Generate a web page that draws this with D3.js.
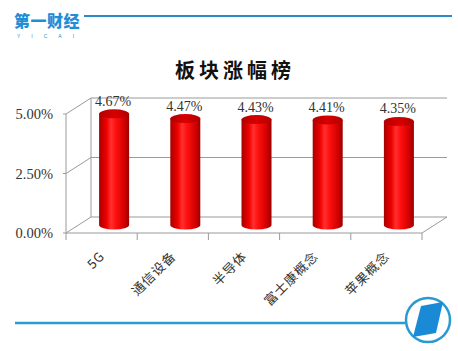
<!DOCTYPE html>
<html>
<head>
<meta charset="utf-8">
<script src="https://cdn.jsdelivr.net/npm/d3@7"></script>
<style>
  body { margin: 0; background: #fff; }
  svg { display: block; }
</style>
</head>
<body>
<div id="chart"></div>
<script>
let categories = ["5G", "通信设备", "半导体", "富士康概念", "苹果概念"];
let values = [4.67, 4.47, 4.43, 4.41, 4.35];
let yTicks = [0, 2.5, 5];

let W = 458, H = 351;
let plotLeft = 66, plotRight = 422, plotBase = 233, plotTop = 114;
let dx = 25, dy = -16;   // profundidad 3d

let svg = d3.select("#chart").append("svg")
    .attr("width", W)
    .attr("height", H);

let x = d3.scaleBand()
    .domain(categories)
    .range([plotLeft, plotRight]);

let y = d3.scaleLinear()
    .domain([0, 5])
    .range([plotBase, plotTop]);

let defs = svg.append("defs");
let grad = defs.append("linearGradient").attr("id", "cil");
[["0%", "#a80000"], ["25%", "#f00000"], ["40%", "#ff3030"], ["55%", "#ff1010"], ["85%", "#d00000"], ["100%", "#9a0000"]]
    .forEach(s => grad.append("stop").attr("offset", s[0]).attr("stop-color", s[1]));
let gradTop = defs.append("linearGradient").attr("id", "tapa");
[["0%", "#b00000"], ["50%", "#d80000"], ["100%", "#b00000"]]
    .forEach(s => gradTop.append("stop").attr("offset", s[0]).attr("stop-color", s[1]));

// logo superior
svg.append("text")
    .attr("x", 14).attr("y", 27)
    .style("font-family", "'Noto Sans CJK SC'")
    .style("font-weight", 900)
    .style("font-size", "16px")
    .style("fill", "#1e8fd6")
    .style("letter-spacing", "0.5px")
    .text("第一财经");
svg.append("text")
    .attr("x", 17).attr("y", 38)
    .style("font-family", "Arial")
    .style("font-size", "5px")
    .style("fill", "#1e8fd6")
    .style("letter-spacing", "11px")
    .text("YICAI");
svg.append("line")
    .attr("x1", 84).attr("x2", 452)
    .attr("y1", 16).attr("y2", 16)
    .attr("stroke", "#2a8ac4").attr("stroke-width", 2);

// titulo
svg.append("text")
    .attr("x", 235).attr("y", 78)
    .attr("text-anchor", "middle")
    .style("font-family", "'Noto Sans CJK SC'")
    .style("font-weight", 700)
    .style("font-size", "20px")
    .style("letter-spacing", "4px")
    .style("fill", "#111")
    .text("板块涨幅榜");

let grid = svg.append("g").attr("stroke", "#9a9a9a").attr("stroke-width", 1).attr("fill", "none");

// pared del fondo y pared izquierda
grid.selectAll(".back")
    .data(yTicks)
    .enter()
    .append("line")
    .attr("x1", plotLeft + dx).attr("x2", plotRight + dx)
    .attr("y1", d => y(d) + dy).attr("y2", d => y(d) + dy);
grid.selectAll(".side")
    .data(yTicks)
    .enter()
    .append("line")
    .attr("x1", plotLeft).attr("x2", plotLeft + dx)
    .attr("y1", d => y(d)).attr("y2", d => y(d) + dy);
grid.append("line")
    .attr("x1", plotLeft + dx).attr("x2", plotLeft + dx)
    .attr("y1", y(0) + dy).attr("y2", y(5) + dy);
grid.append("line")
    .attr("x1", plotLeft).attr("x2", plotLeft)
    .attr("y1", y(0)).attr("y2", y(5));
grid.selectAll(".ytick")
    .data(yTicks)
    .enter()
    .append("line")
    .attr("x1", plotLeft - 3).attr("x2", plotLeft)
    .attr("y1", d => y(d)).attr("y2", d => y(d));

// suelo
grid.append("line")
    .attr("x1", plotLeft).attr("x2", plotRight)
    .attr("y1", plotBase).attr("y2", plotBase);
grid.append("line")
    .attr("x1", plotRight).attr("x2", plotRight + dx)
    .attr("y1", plotBase).attr("y2", plotBase + dy);
let edges = categories.map(c => x(c)).concat([plotRight]);
grid.selectAll(".xtick")
    .data(edges)
    .enter()
    .append("line")
    .attr("x1", d => d).attr("x2", d => d)
    .attr("y1", plotBase).attr("y2", plotBase + 7);

// etiquetas eje y
svg.append("g")
    .selectAll("text")
    .data(yTicks)
    .enter()
    .append("text")
    .attr("x", 53)
    .attr("y", d => y(d))
    .attr("dy", "0.35em")
    .attr("text-anchor", "end")
    .style("font-family", "'Liberation Serif'")
    .style("font-size", "14.5px")
    .style("fill", "#333")
    .text(d => d3.format(".2f")(d) + "%");

// cilindros
let rx = 15, ry = 4.5;
let bars = svg.append("g")
    .selectAll("g")
    .data(values)
    .enter()
    .append("g");

function cx(i) { return x(categories[i]) + x.bandwidth() / 2 + dx / 2; }

bars.append("path")
    .attr("d", (d, i) => {
        let c = cx(i), yb = y(0) + dy / 2, yt = y(d) + dy / 2;
        return "M" + (c - rx) + "," + yt + " L" + (c - rx) + "," + yb +
            " A" + rx + "," + ry + " 0 0 0 " + (c + rx) + "," + yb +
            " L" + (c + rx) + "," + yt + " Z";
    })
    .attr("fill", "url(#cil)");

bars.append("ellipse")
    .attr("cx", (d, i) => cx(i))
    .attr("cy", d => y(d) + dy / 2)
    .attr("rx", rx).attr("ry", ry)
    .attr("fill", "url(#tapa)");

bars.append("text")
    .attr("x", (d, i) => cx(i) - 1)
    .attr("y", d => y(d) + dy / 2 - 8)
    .attr("text-anchor", "middle")
    .style("font-family", "'Liberation Serif'")
    .style("font-size", "14px")
    .style("fill", "#333")
    .text(d => d3.format(".2f")(d) + "%");

// etiquetas eje x
svg.append("g")
    .selectAll("text")
    .data(categories)
    .enter()
    .append("text")
    .attr("transform", d => "translate(" + (x(d) + x.bandwidth() / 2 + 4) + "," + (plotBase + 24) + ") rotate(-45)")
    .attr("text-anchor", "end")
    .style("font-family", "'Noto Sans CJK SC'")
    .style("font-size", "13px")
    .style("letter-spacing", "1px")
    .style("fill", "#333")
    .text(d => d);

// logo inferior
svg.append("line")
    .attr("x1", 15).attr("x2", 405)
    .attr("y1", 323).attr("y2", 323)
    .attr("stroke", "#2a9ad0").attr("stroke-width", 2.5);
svg.append("circle")
    .attr("cx", 428).attr("cy", 320).attr("r", 22)
    .attr("fill", "none")
    .attr("stroke", "#2a9ad0").attr("stroke-width", 2.5);
svg.append("path")
    .attr("d", "M421,306 L443,302 L436,333 L413,337 Z")
    .attr("fill", "#1a8ad6");
</script>
</body>
</html>
